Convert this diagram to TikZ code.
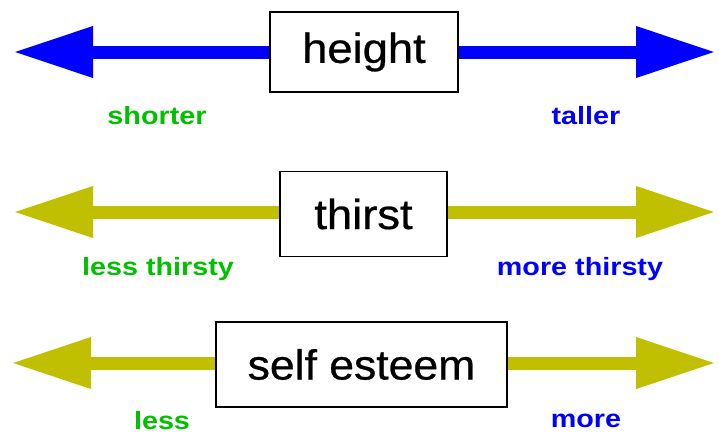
\documentclass[tikz,border=0pt]{standalone}
\usepackage{fontspec}
\setmainfont{Liberation Sans}
\newfontfamily\boxfont{Liberation Sans}[BoldFont=Liberation Sans, BoldFeatures={FakeBold=0.6}]
\usetikzlibrary{arrows.meta,backgrounds}
\definecolor{arrblue}{RGB}{0,0,255}
\definecolor{arrolive}{RGB}{192,192,0}
\definecolor{lblgreen}{RGB}{0,192,0}
\definecolor{lblblue}{RGB}{0,0,255}
\newcommand{\widetext}[2]{\scalebox{#1}[1]{#2}}
\begin{document}
\begin{tikzpicture}[x=1pt,y=-1pt,
  box/.style={draw=black, line width=1.5pt, fill=white, inner sep=0pt,
    font=\boxfont\bfseries\fontsize{42}{42}\selectfont},
  shaft/.style={line width=13pt, -{Triangle[length=80pt,width=48pt]}},
  lbl/.style={inner sep=0pt, font=\fontsize{25}{25}\selectfont\bfseries}]
\useasboundingbox (0,0) rectangle (719,434);
% coordinates for arrow tips
\coordinate (hL) at (13,52);
\coordinate (hR) at (716,52);
\coordinate (tL) at (13,212);
\coordinate (tR) at (716,212);
\coordinate (sL) at (11,363);
\coordinate (sR) at (716,363);
% boxes
\node[box, minimum width=188pt, minimum height=80pt] (h) at (364,52) {\widetext{1.08}{height}};
\node[box, minimum width=167pt, minimum height=85pt] (t) at (363.5,214) {\widetext{1.08}{thirst}};
\node[box, minimum width=291pt, minimum height=85pt] (s) at (361.5,364.5) {\widetext{1.06}{self esteem}};
% arrows behind the boxes
\begin{scope}[on background layer]
\fill[white] (0,0) rectangle (719,434);
\draw[shaft, arrblue] (h.west) -- (hL);
\draw[shaft, arrblue] (h.east) -- (hR);
\draw[shaft, arrolive] (t.west |- tL) -- (tL);
\draw[shaft, arrolive] (t.east |- tR) -- (tR);
\draw[shaft, arrolive] (s.west |- sL) -- (sL);
\draw[shaft, arrolive] (s.east |- sR) -- (sR);
\end{scope}
% labels
\node[lbl, text=lblgreen] (l1) at (157,116) {\widetext{1.15}{shorter}};
\node[lbl, text=lblblue] (r1) at (586,116) {\widetext{1.15}{taller}};
\node[lbl, text=lblgreen] (l2) at (158,269) {\widetext{1.15}{less thirsty}};
\node[lbl, text=lblblue] (r2) at (580,269) {\widetext{1.15}{more thirsty}};
\node[lbl, text=lblgreen] (l3) at (162,421) {\widetext{1.15}{less}};
\node[lbl, text=lblblue] (r3) at (586,421) {\widetext{1.15}{more}};
\end{tikzpicture}
\end{document}
